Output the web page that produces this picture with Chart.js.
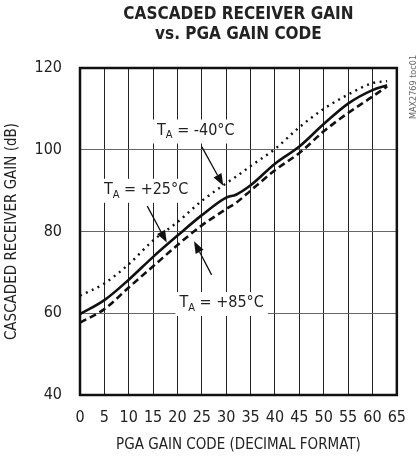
<!DOCTYPE html>
<html>
<head>
<meta charset="utf-8">
<script src="https://cdn.jsdelivr.net/npm/chart.js@4.4.1/dist/chart.umd.min.js"></script>
<style>
html, body { margin: 0; padding: 0; background: #fff; }
</style>
</head>
<body>
<canvas id="gainChart" width="419" height="459"></canvas>
<script>
'use strict'

var FONT = '"Liberation Sans Narrow", "DejaVu Sans Condensed", "Arial Narrow", sans-serif';

// PGA gain code vs cascaded gain (dB)
var codes       = [0, 5, 10, 15, 20, 25, 30, 32, 35, 40, 45, 50, 55, 60, 63];
var gainMinus40 = [64.3, 67.3, 72.0, 77.8, 82.3, 87.5, 91.8, 93.4, 96.0, 100.2, 105.5, 110.0, 113.5, 116.3, 116.8];
var gainPlus25  = [59.8, 63.2, 68.2, 73.8, 79.0, 84.0, 88.3, 89.0, 91.3, 96.6, 100.8, 106.3, 111.3, 114.6, 115.8];
var gainPlus85  = [57.7, 61.0, 66.3, 71.5, 76.7, 81.5, 85.5, 87.0, 90.0, 95.0, 99.2, 104.5, 109.0, 113.0, 115.5];

var xMin = 0, xMax = 65, xStep = 5;
var yMin = 40, yMax = 120, yStep = 20;

function pts(vals) {
  return codes.map(function(c, i) { return {x: c, y: vals[i]}; });
}

// callouts, placed in data units (code, dB)
var callouts = [
  {temp: ' = -40°C', text: [15.8, 104.7], from: [25, 100.7], to: [29.4, 91.2]},
  {temp: ' = +25°C', text: [4.9, 90.2],  from: [13.8, 86.2], to: [17.8, 77.3]},
  {temp: ' = +85°C', text: [20.4, 62.5], from: [27, 69.4],   to: [23.4, 77.6]}
];

function drawArrow(ctx, x1, y1, x2, y2) {
  var ang = Math.atan2(y2 - y1, x2 - x1);
  var len = 12, half = 4.5;
  var bx = x2 - Math.cos(ang) * len, by = y2 - Math.sin(ang) * len;
  ctx.beginPath();
  ctx.moveTo(x1, y1);
  ctx.lineTo(bx, by);
  ctx.lineWidth = 1.3;
  ctx.strokeStyle = '#111';
  ctx.stroke();
  ctx.beginPath();
  ctx.moveTo(x2, y2);
  ctx.lineTo(bx + Math.sin(ang) * half, by - Math.cos(ang) * half);
  ctx.lineTo(bx - Math.sin(ang) * half, by + Math.cos(ang) * half);
  ctx.closePath();
  ctx.fillStyle = '#111';
  ctx.fill();
}

var extras = {
  id: 'extras',
  afterDatasetsDraw: function(chart) {
    var ctx = chart.ctx, xs = chart.scales.x, ys = chart.scales.y, a = chart.chartArea;
    ctx.save();

    // title
    ctx.fillStyle = '#222';
    ctx.textAlign = 'center';
    ctx.textBaseline = 'middle';
    ctx.font = 'bold 17px ' + FONT;
    var cx = (a.left + a.right) / 2;
    ctx.fillText('CASCADED RECEIVER GAIN', cx, 15);
    ctx.fillText('vs. PGA GAIN CODE', cx, 35);

    // frame
    ctx.strokeStyle = '#111';
    ctx.lineWidth = 2.5;
    ctx.strokeRect(a.left, a.top, a.right - a.left, a.bottom - a.top);

    // callouts
    callouts.forEach(function(c) {
      var tx = xs.getPixelForValue(c.text[0]), ty = ys.getPixelForValue(c.text[1]);
      ctx.font = '16px ' + FONT;
      var wT = ctx.measureText('T').width;
      ctx.font = '11px ' + FONT;
      var wA = ctx.measureText('A').width;
      ctx.font = '16px ' + FONT;
      var wR = ctx.measureText(c.temp).width;
      ctx.fillStyle = '#fff';
      ctx.fillRect(tx - 4, ty - 11, wT + wA + wR + 8, 24);
      ctx.fillStyle = '#222';
      ctx.textAlign = 'left';
      ctx.textBaseline = 'middle';
      ctx.fillText('T', tx, ty);
      ctx.font = '11px ' + FONT;
      ctx.fillText('A', tx + wT, ty + 5);
      ctx.font = '16px ' + FONT;
      ctx.fillText(c.temp, tx + wT + wA, ty);
      drawArrow(ctx,
        xs.getPixelForValue(c.from[0]), ys.getPixelForValue(c.from[1]),
        xs.getPixelForValue(c.to[0]), ys.getPixelForValue(c.to[1]));
    });

    // figure id
    ctx.translate(414, 87);
    ctx.rotate(-Math.PI / 2);
    ctx.font = '9px ' + FONT;
    ctx.fillStyle = '#666';
    ctx.textAlign = 'center';
    ctx.fillText('MAX2769 toc01', 0, 0);
    ctx.restore();
  }
};

var ctx = document.getElementById('gainChart');

var gainchart = new Chart(ctx, {
  type: 'line',
  data: {
    datasets: [{
      label: 'TA = -40°C',
      data: pts(gainMinus40),
      borderColor: '#111',
      borderWidth: 2.4,
      borderDash: [2, 4.5],
      pointRadius: 0,
      tension: 0.4,
      cubicInterpolationMode: 'monotone',
      fill: false
    },
    {
      label: 'TA = +25°C',
      data: pts(gainPlus25),
      borderColor: '#111',
      borderWidth: 2.6,
      pointRadius: 0,
      tension: 0.4,
      cubicInterpolationMode: 'monotone',
      fill: false
    },
    {
      label: 'TA = +85°C',
      data: pts(gainPlus85),
      borderColor: '#111',
      borderWidth: 2.6,
      borderDash: [7, 4],
      pointRadius: 0,
      tension: 0.4,
      cubicInterpolationMode: 'monotone',
      fill: false
    }]
  },
  options: {
    responsive: false,
    animation: false,
    devicePixelRatio: 1,
    layout: { padding: { top: 68, right: 10, left: 0, bottom: 0 } },
    plugins: {
      legend: { display: false },
      tooltip: { enabled: false },
      title: { display: false }
    },
    scales: {
      x: {
        type: 'linear',
        min: xMin,
        max: xMax,
        afterFit: function(s) { s.height = 64; },
        ticks: { stepSize: xStep, padding: 13, color: '#222', font: { family: FONT, size: 16 } },
        grid: { color: '#222', lineWidth: 1, drawTicks: false },
        border: { display: false },
        title: { display: true, text: 'PGA GAIN CODE (DECIMAL FORMAT)', color: '#222',
                 font: { family: FONT, size: 15 }, padding: { top: 0, bottom: 5 } }
      },
      y: {
        min: yMin,
        max: yMax,
        afterFit: function(s) { s.width = 80; },
        ticks: { stepSize: yStep, padding: 18, color: '#222', font: { family: FONT, size: 16 } },
        grid: { color: '#666', lineWidth: 1, drawTicks: false },
        border: { display: false },
        title: { display: true, text: 'CASCADED RECEIVER GAIN (dB)', color: '#222',
                 font: { family: FONT, size: 15 }, padding: { top: 3, bottom: 0 } }
      }
    }
  },
  plugins: [extras]
});
</script>
</body>
</html>
